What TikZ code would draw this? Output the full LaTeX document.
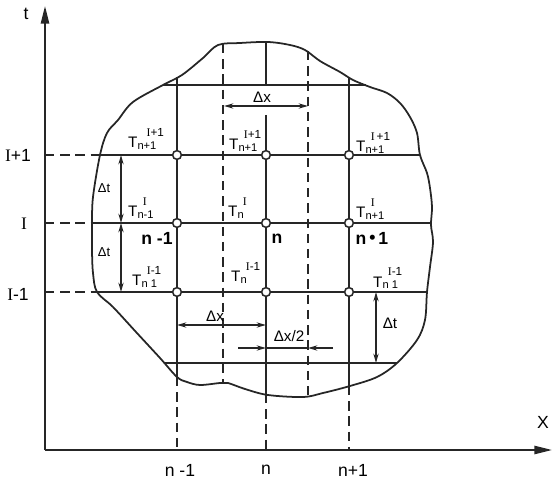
\documentclass[tikz,border=0pt]{standalone}
\usepackage{fontspec}
\setmainfont{Liberation Sans}
\newfontfamily\serifI{Liberation Serif}
\usetikzlibrary{arrows.meta}
\newcommand{\Ii}{{\serifI I}}
\newcommand{\Tlab}[3][0.35em]{T\makebox[0pt][l]{\kern#1\raisebox{0.78em}{\fontsize{10}{10}\selectfont #2}}\raisebox{-0.08em}{\fontsize{9.5}{10}\selectfont #3}}

\begin{document}
\begin{tikzpicture}[
    x=0.03cm, y=-0.03cm,
    ln/.style={line width=1.5pt, color=black!85},
    dashln/.style={line width=1.5pt, color=black!85, dash pattern=on 8pt off 5pt},
    gridpt/.style={circle, draw=black!85, fill=white, line width=1.3pt, inner sep=0pt, minimum size=7.5pt},
    axis/.style={line width=1.5pt, color=black!85, -{Triangle[length=15pt, width=7pt]}},
    arr/.style={line width=1.1pt, color=black!85, {Stealth[length=8pt, width=4.5pt]}-{Stealth[length=8pt, width=4.5pt]}},
    half/.style={line width=1.1pt, color=black!85, -{Stealth[length=8pt, width=4.5pt]}},
    tlbl/.style={font=\fontsize{13}{15}\selectfont, inner sep=0pt, anchor=base west},
    dlbl/.style={font=\fontsize{13}{15}\selectfont, inner sep=0pt},
    albl/.style={font=\fontsize{15}{18}\selectfont, inner sep=0pt},
    nlbl/.style={font=\fontsize{15}{18}\selectfont\bfseries, inner sep=0pt}
]
\useasboundingbox (0,0) rectangle (552,480);

\coordinate (o) at (45,450);
\coordinate (tend) at (45,6);
\coordinate (xend) at (552,450);
\draw[axis] (o) -- (tend);
\draw[axis] (o) -- (xend);
\node[albl] (tlab) at (26,14) {t};
\node[albl] (xlab) at (543,422) {X};

\draw[ln] plot[smooth cycle, tension=0.55] coordinates {
    (100,155) (107,133) (118,120) (133,102) (163,85) (182,75) (203,58) (218,45)
    (240,43) (268,42) (290,45) (305,50) (320,61) (340,72) (353,80) (370,87)
    (387,93) (400,103) (410,117) (417,133) (420,155) (427,173) (430,188) (432,207)
    (431,225) (433,242) (430,267) (427,292) (425,320) (417,340) (397,363) (377,377)
    (350,386) (323,393) (303,397) (268,395) (245,389) (228,383) (220,383) (200,385)
    (187,382) (177,377) (160,358) (136,332) (113,307) (97,292) (93,273) (92,250)
    (92,224) (93,197)};

\foreach \col/\x in {a/177, b/266, c/349}
  \foreach \row/\y in {1/155, 2/223, 3/292}
    \node[gridpt] (\col\row) at (\x,\y) {};

\coordinate (L1) at (100,155);
\coordinate (R1) at (420,155);
\coordinate (L2) at (92,223);
\coordinate (R2) at (431,223);
\coordinate (L3) at (97,292);
\coordinate (R3) at (427,292);
\coordinate (A1) at (45,155);
\coordinate (A2) at (45,223);
\coordinate (A3) at (45,292);
\draw[ln] (L1) -- (a1) -- (b1) -- (c1) -- (R1);
\draw[ln] (L2) -- (a2) -- (b2) -- (c2) -- (R2);
\draw[ln] (L3) -- (a3) -- (b3) -- (c3) -- (R3);
\draw[dashln] (A1) -- (L1);
\draw[dashln] (A2) -- (L2);
\draw[dashln] (A3) -- (L3);

\coordinate (topL) at (163,85);
\coordinate (topR) at (366,85);
\coordinate (botL) at (165,363);
\coordinate (botR) at (397,363);
\draw[ln] (topL) -- (topR);
\draw[ln] (botL) -- (botR);

\coordinate (Ta) at (177,77);
\coordinate (Ba) at (177,377);
\coordinate (Xa) at (177,450);
\coordinate (Tb) at (266,42);
\coordinate (Gb) at (266,85);
\coordinate (Hb) at (266,115);
\coordinate (Bb) at (266,394);
\coordinate (Xb) at (266,450);
\coordinate (Tc) at (349,78);
\coordinate (Bc) at (349,386);
\coordinate (Xc) at (349,450);
\draw[ln] (Ta) -- (a1) -- (a2) -- (a3) -- (Ba);
\draw[ln] (Tb) -- (Gb);
\draw[ln] (Hb) -- (b1) -- (b2) -- (b3) -- (Bb);
\draw[ln] (Tc) -- (c1) -- (c2) -- (c3) -- (Bc);
\draw[dashln] (Ba) -- (Xa);
\draw[dashln] (Bb) -- (Xb);
\draw[dashln] (Bc) -- (Xc);

\coordinate (Th1) at (223,44);
\coordinate (Bh1) at (223,383);
\coordinate (Th2) at (308,51);
\coordinate (Bh2) at (308,397);
\draw[dashln] (Th1) -- (Bh1);
\draw[dashln] (Th2) -- (Bh2);

\node[albl] (lI1) at (18,155) {\Ii+1};
\node[albl] (lI2) at (24,224) {\Ii};
\node[albl] (lI3) at (18,294) {\Ii-1};
\node[albl] (ln1) at (180,470) {n -1};
\node[albl] (ln2) at (266,470) {n};
\node[albl] (ln3) at (353,470) {n+1};

\node[tlbl] (Ta1) at (128,148) {\Tlab[0.6em]{\Ii+1}{n+1}};
\node[tlbl] (Tb1) at (229,150) {\Tlab{\Ii+1}{n+1}};
\node[tlbl] (Tc1) at (356,152) {\Tlab{\Ii\,+1}{n+1}};
\node[tlbl] (Ta2) at (128,217) {\Tlab{\Ii}{n-1}};
\node[tlbl] (Tb2) at (228,217) {\Tlab{\Ii}{n}};
\node[tlbl] (Tc2) at (356,218) {\Tlab{\Ii}{n+1}};
\node[tlbl] (Ta3) at (132,286) {\Tlab{\Ii-1}{n 1}};
\node[tlbl] (Tb3) at (231,282) {\Tlab{\Ii-1}{n}};
\node[tlbl] (Tc3) at (373,287) {\Tlab{\Ii-1}{n 1}};

\node[nlbl] (na) at (157,238) {n -1};
\node[nlbl] (nb) at (277,239) {n};
\node[nlbl] (nc) at (372,238) {n\,\raisebox{0.1ex}{\textbullet}\,1};

\coordinate (dt1a) at (121,155);
\coordinate (dt1b) at (121,223);
\coordinate (dt2b) at (121,292);
\draw[arr] (dt1a) -- (dt1b);
\draw[arr] (dt1b) -- (dt2b);
\node[dlbl, font=\fontsize{11}{13}\selectfont] (dtl1) at (104,188) {Δt};
\node[dlbl, font=\fontsize{11}{13}\selectfont] (dtl2) at (104,252) {Δt};
\coordinate (dt3a) at (376,292);
\coordinate (dt3b) at (376,363);
\draw[arr] (dt3a) -- (dt3b);
\node[dlbl] (dtl3) at (390,323) {Δt};

\coordinate (dxa) at (224,106);
\coordinate (dxb) at (308,106);
\draw[arr] (dxa) -- (dxb);
\node[dlbl] (dxl1) at (262,97) {Δx};
\coordinate (dx2a) at (177,325);
\coordinate (dx2b) at (266,325);
\draw[arr] (dx2a) -- (dx2b);
\node[dlbl] (dxl2) at (215,316) {Δx};

\coordinate (hfa) at (238,348);
\coordinate (hfb) at (266,348);
\coordinate (hfc) at (308,348);
\coordinate (hfd) at (333,348);
\draw[half] (hfa) -- (hfb);
\draw[half] (hfd) -- (hfc);
\draw[line width=1.1pt, black!85] (hfb) -- (hfc);
\node[dlbl] (hfl) at (289,336) {Δx/2};

\end{tikzpicture}
\end{document}
